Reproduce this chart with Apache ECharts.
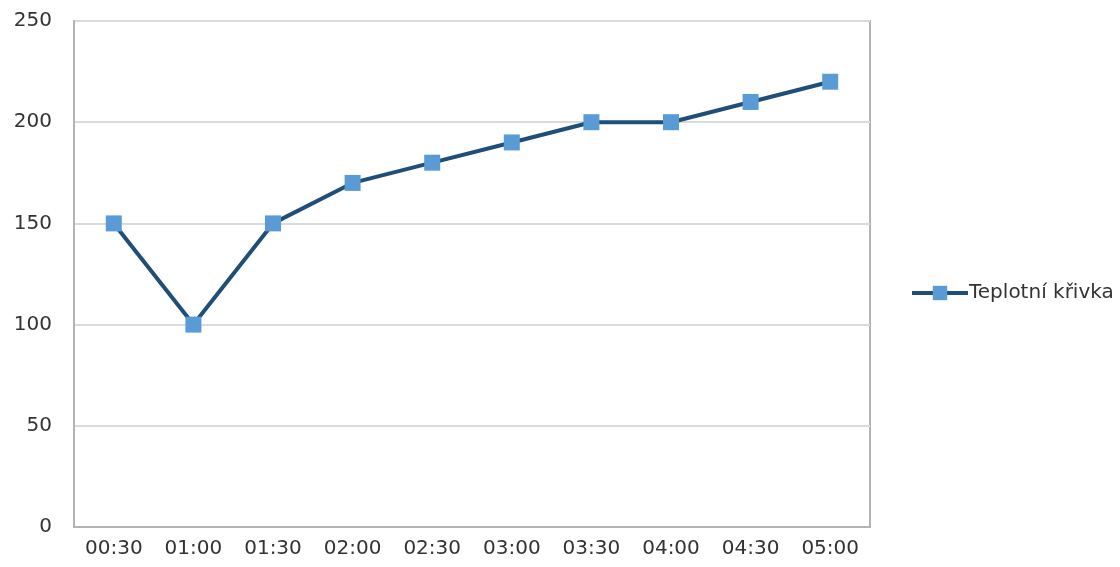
<!DOCTYPE html>
<html>
<head>
<meta charset="utf-8">
<script src="https://cdn.jsdelivr.net/npm/echarts@6/dist/echarts.min.js"></script>
<style>
  html, body { margin: 0; padding: 0; background: #fff; }
  #chart { width: 1120px; height: 567px; }
</style>
</head>
<body>
<div id="chart"></div>
<script>
const categories = ['00:30', '01:00', '01:30', '02:00', '02:30', '03:00', '03:30', '04:00', '04:30', '05:00'];
const values = [150, 100, 150, 170, 180, 190, 200, 200, 210, 220];
const seriesName = 'Teplotní křivka';

const font = '"DejaVu Sans", "Open Sans", sans-serif';
const chart = echarts.init(document.getElementById('chart'));

chart.setOption({
  animation: false,
  grid: {
    left: 74,
    right: 250,
    top: 21,
    bottom: 40,
    show: true,
    borderColor: '#b4b4b4',
    borderWidth: 2
  },
  legend: {
    data: [seriesName],
    left: 905,
    top: 278,
    orient: 'vertical',
    itemWidth: 56,
    itemHeight: 18,
    lineStyle: { color: '#1f4e79', width: 4 },
    textStyle: { color: '#333', fontSize: 20, fontFamily: font, padding: [0, 0, 0, -4] }
  },
  xAxis: {
    type: 'category',
    data: categories,
    boundaryGap: true,
    axisLine: { lineStyle: { color: '#b4b4b4', width: 2 } },
    axisTick: { show: false },
    axisLabel: { color: '#333', fontSize: 20, fontFamily: font, margin: 12 }
  },
  yAxis: {
    type: 'value',
    min: 0,
    max: 250,
    interval: 50,
    axisLine: { show: true, lineStyle: { color: '#b4b4b4', width: 2 } },
    axisTick: { show: false },
    splitLine: { lineStyle: { color: '#dadada', width: 2 } },
    axisLabel: { color: '#333', fontSize: 20, fontFamily: font, margin: 22 }
  },
  series: [{
    name: seriesName,
    type: 'line',
    data: values,
    symbol: 'rect',
    symbolSize: 16,
    lineStyle: { color: '#1f4e79', width: 4 },
    itemStyle: { color: '#5b9bd5', borderWidth: 0 }
  }]
});
</script>
</body>
</html>
